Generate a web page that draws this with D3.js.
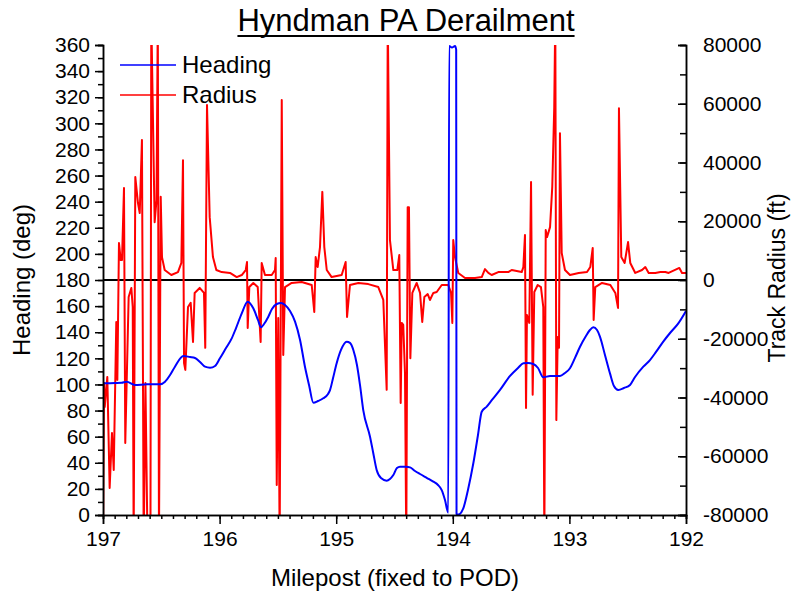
<!DOCTYPE html>
<html>
<head>
<meta charset="utf-8">
<title>Hyndman PA Derailment</title>
<script src="https://d3js.org/d3.v7.min.js"></script>
<style>
  body { margin: 0; background: #fff; }
  svg { font-family: "Liberation Sans", Arial, sans-serif; }
</style>
</head>
<body>
<div id="chart"></div>
<script>
// heading (blue), milepost vs degrees
var headingMp = [196.997,196.897,196.840,196.797,196.726,196.623,196.511,196.468,196.425,196.383,196.311,196.254,196.211,196.168,196.125,196.082,196.039,195.997,195.945,195.896,195.859,195.810,195.759,195.711,195.671,195.645,195.619,195.582,195.551,195.510,195.473,195.439,195.396,195.353,195.310,195.268,195.233,195.196,195.156,195.111,195.070,195.053,195.027,194.996,194.959,194.910,194.882,194.853,194.822,194.796,194.768,194.710,194.684,194.653,194.616,194.567,194.539,194.510,194.479,194.453,194.401,194.367,194.324,194.281,194.221,194.167,194.127,194.095,194.067,194.039,194.031,194.007,193.981,193.971,193.968,193.953,193.910,193.870,193.824,193.784,193.752,193.709,193.664,193.595,193.509,193.441,193.395,193.355,193.310,193.269,193.224,193.166,193.081,193.038,192.995,192.952,192.909,192.858,192.824,192.795,192.763,192.738,192.695,192.652,192.618,192.581,192.532,192.480,192.437,192.366,192.309,192.257,192.195,192.137,192.066,192.000];
var headingDeg = [100.9,101.1,101.3,102.1,99.6,100.1,100.1,102.1,107.2,113.6,121.8,121.0,120.3,117.2,113.6,112.8,114.1,120.0,127.9,135.3,143.2,154.5,163.4,158.3,149.4,143.8,146.3,151.9,157.8,161.6,162.4,160.9,156.3,148.1,134.1,113.6,99.6,86.0,87.3,89.4,92.7,95.7,104.9,116.2,126.4,132.7,131.8,126.4,114.9,99.6,80.4,60.0,48.3,34.5,28.3,26.3,27.6,30.6,36.0,37.0,37.0,36.5,33.7,31.4,28.3,25.5,23.0,19.1,11.5,1.8,359.2,358.1,359.2,356.5,0.8,0.3,5.1,19.2,39.6,61.3,79.1,83.0,88.1,95.8,106.5,112.6,116.2,116.4,115.7,112.6,105.5,106.5,106.5,108.8,112.4,120.3,128.9,137.1,141.7,143.8,141.7,136.6,122.6,108.5,98.8,95.8,97.3,99.6,105.7,113.6,118.7,124.9,132.8,139.4,146.8,156.3];

// track radius (red), milepost vs feet
var radiusMp = [197.000,196.991,196.985,196.963,196.943,196.923,196.908,196.886,196.877,196.863,196.848,196.837,196.820,196.809,196.780,196.757,196.745,196.737,196.723,196.700,196.685,196.666,196.651,196.636,196.618,196.593,196.586,196.557,196.541,196.530,196.520,196.505,196.494,196.471,196.414,196.357,196.328,196.314,196.305,196.294,196.271,196.248,196.228,196.214,196.171,196.134,196.123,196.108,196.085,196.057,196.028,195.982,195.911,195.853,195.810,195.776,195.765,195.759,195.745,195.711,195.673,195.648,195.639,195.611,195.553,195.525,195.519,195.510,195.497,195.485,195.467,195.454,195.439,195.382,195.296,195.210,195.188,195.176,195.159,195.139,195.119,195.102,195.081,195.039,194.953,194.919,194.907,194.882,194.810,194.725,194.639,194.596,194.567,194.558,194.539,194.510,194.476,194.459,194.447,194.438,194.425,194.410,194.399,194.387,194.376,194.364,194.347,194.310,194.281,194.262,194.244,194.215,194.196,194.167,194.138,194.095,194.039,194.015,194.004,193.996,193.981,193.953,193.895,193.810,193.752,193.724,193.695,193.667,193.610,193.524,193.495,193.409,193.395,193.381,193.372,193.364,193.344,193.329,193.315,193.301,193.272,193.244,193.224,193.215,193.203,193.192,193.166,193.147,193.130,193.121,193.112,193.100,193.089,193.081,193.066,193.038,192.995,192.920,192.849,192.821,192.800,192.792,192.778,192.720,192.649,192.606,192.583,192.575,192.555,192.526,192.497,192.478,192.435,192.377,192.349,192.320,192.263,192.220,192.177,192.149,192.057,192.034,192.000];
var radiusFt = [-90000,-35100,-43200,-33000,-70800,-52100,-64700,-14300,-34000,12600,6800,6800,31300,-55500,-5800,-2700,-9200,-90000,35100,26200,22800,47700,-90000,-35100,-90000,-90000,90000,19700,27200,90000,-90000,28300,7800,3400,1700,2700,5800,40800,-28300,-30600,-9200,-7800,-21100,-4400,-2700,-4400,-23100,59600,21400,7800,3400,2700,2400,1000,1700,3400,6100,-16300,-2400,-1000,-2400,-21100,5800,1700,1700,3400,7500,-69800,-12900,-90000,61300,-25500,-2400,-1000,-700,-1700,-10900,7800,4400,11200,30000,11200,3400,1000,1700,6100,-12600,-1700,-1000,-1400,-2400,-6800,-37400,90000,13600,3400,3400,8500,-41900,-14600,-15300,-31700,-90000,24800,24800,-26600,-4400,-1000,-4400,-14300,-5800,-4800,-6800,-4400,-4100,-1700,-1700,-4400,-14600,13600,7800,2400,700,700,1000,3700,2400,1700,2700,2700,3400,2700,4400,15300,-43600,-11900,-14600,33400,-39100,-4100,-1700,-2400,-9200,-90000,17000,14600,18000,31700,58900,90000,-47700,-19400,-23100,50000,9200,3400,1700,2400,2700,4400,10900,-13600,-2400,-1000,-1700,-4400,-9500,58500,7800,5800,12900,5800,2400,3400,4400,2400,2400,2700,2700,2400,4100,2400,2400];

var xTicks = [197, 196, 195, 194, 193, 192];
var headingTicks = d3.range(0, 361, 20);
var radiusTicks = d3.range(-80000, 80001, 20000);

var width = 791, height = 594;
var plotL = 103, plotR = 686, plotT = 45, plotB = 515;

var svg = d3.select("#chart").append("svg")
    .attr("width", width)
    .attr("height", height);

var x = d3.scaleLinear().domain([197, 192]).range([plotL, plotR]);
var yH = d3.scaleLinear().domain([0, 360]).range([plotB, plotT]);
var yR = d3.scaleLinear().domain([-80000, 80000]).range([plotB, plotT]);

svg.append("clipPath").attr("id", "plot")
  .append("rect")
    .attr("x", plotL).attr("y", plotT)
    .attr("width", plotR - plotL).attr("height", plotB - plotT);

// zero line
svg.append("line")
    .attr("x1", plotL).attr("x2", plotR)
    .attr("y1", yR(0)).attr("y2", yR(0))
    .attr("stroke", "#000").attr("stroke-width", 2);

var heading = headingMp.map(function(d, i) { return [d, headingDeg[i]]; });
var radius = radiusMp.map(function(d, i) { return [d, radiusFt[i]]; });

svg.append("path")
    .datum(radius)
    .attr("clip-path", "url(#plot)")
    .attr("fill", "none")
    .attr("stroke", "#ff0000")
    .attr("stroke-width", 2)
    .attr("stroke-linejoin", "round")
    .attr("d", d3.line().x(function(d) { return x(d[0]); }).y(function(d) { return yR(d[1]); }));

svg.append("path")
    .datum(heading)
    .attr("clip-path", "url(#plot)")
    .attr("fill", "none")
    .attr("stroke", "#0000ff")
    .attr("stroke-width", 2)
    .attr("d", d3.line().curve(d3.curveMonotoneX).x(function(d) { return x(d[0]); }).y(function(d) { return yH(d[1]); }));

// axes
function styleAxis(g) {
  g.selectAll("path.domain").attr("stroke", "#000").attr("stroke-width", 1.5);
  g.selectAll("line").attr("stroke", "#000").attr("stroke-width", 1.5);
  g.selectAll("text").attr("font-size", 21).attr("fill", "#000")
    .attr("font-family", "'Liberation Sans', Arial, sans-serif");
}
var plain = function(d) { return String(d); };

var gx = svg.append("g").attr("transform", "translate(0," + plotB + ")");
gx.call(d3.axisBottom(x).tickValues(d3.range(192, 197.001, 0.1)).tickSize(4).tickFormat(""));
gx.append("g").call(d3.axisBottom(x).tickValues(xTicks).tickSize(9).tickPadding(7).tickFormat(plain));
gx.select("g").select("path.domain").remove();
styleAxis(gx);

var gl = svg.append("g").attr("transform", "translate(" + plotL + ",0)");
gl.call(d3.axisLeft(yH).tickValues(d3.range(0, 361, 10)).tickSize(5).tickFormat(""));
gl.append("g").call(d3.axisLeft(yH).tickValues(headingTicks).tickSize(8).tickPadding(5).tickFormat(plain));
gl.select("g").select("path.domain").remove();
styleAxis(gl);

var gr = svg.append("g").attr("transform", "translate(" + plotR + ",0)");
gr.call(d3.axisRight(yR).tickValues(d3.range(-80000, 80001, 10000)).tickSize(-6).tickFormat(""));
gr.append("g").call(d3.axisRight(yR).tickValues(radiusTicks).tickSize(-8).tickPadding(17).tickFormat(plain));
gr.select("g").select("path.domain").remove();
styleAxis(gr);

// titles
var title = svg.append("text")
    .attr("x", 406).attr("y", 31)
    .attr("text-anchor", "middle")
    .attr("font-size", 31)
    .text("Hyndman PA Derailment");
var tw = title.node().getComputedTextLength();
svg.append("line")
    .attr("x1", 406 - tw / 2).attr("x2", 406 + tw / 2)
    .attr("y1", 36).attr("y2", 36)
    .attr("stroke", "#000").attr("stroke-width", 1.8);

svg.append("text")
    .attr("x", 395).attr("y", 586)
    .attr("text-anchor", "middle")
    .attr("font-size", 24)
    .text("Milepost (fixed to POD)");

svg.append("text")
    .attr("transform", "translate(30,280) rotate(-90)")
    .attr("text-anchor", "middle")
    .attr("font-size", 24)
    .text("Heading (deg)");

svg.append("text")
    .attr("transform", "translate(785,278) rotate(-90)")
    .attr("text-anchor", "middle")
    .attr("font-size", 23)
    .text("Track Radius (ft)");

// legend
var legend = [{ label: "Heading", color: "#0000ff" }, { label: "Radius", color: "#ff0000" }];
var lg = svg.selectAll(".legend").data(legend).enter().append("g")
    .attr("class", "legend")
    .attr("transform", function(d, i) { return "translate(120," + (65 + i * 30) + ")"; });
lg.append("line")
    .attr("x1", 0).attr("x2", 56)
    .attr("stroke", function(d) { return d.color; })
    .attr("stroke-width", 1.6);
lg.append("text")
    .attr("x", 62).attr("y", 8)
    .attr("font-size", 24)
    .text(function(d) { return d.label; });
</script>
</body>
</html>
